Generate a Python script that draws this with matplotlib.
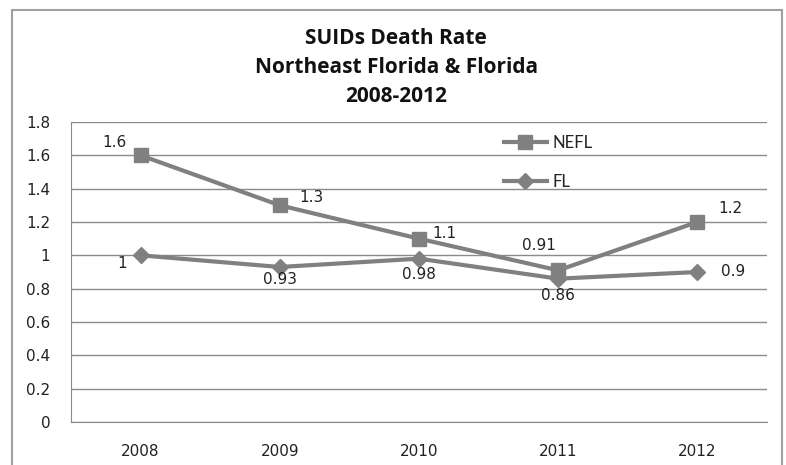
import matplotlib.pyplot as plt
from matplotlib.patches import Rectangle

plt.rcParams['font.family'] = ['DejaVu Sans']

years = ['2008', '2009', '2010', '2011', '2012']
nefl = [1.6, 1.3, 1.1, 0.91, 1.2]
fl = [1.0, 0.93, 0.98, 0.86, 0.9]
nefl_labels = ['1.6', '1.3', '1.1', '0.91', '1.2']
fl_labels = ['1', '0.93', '0.98', '0.86', '0.9']
yticks = [0, 0.2, 0.4, 0.6, 0.8, 1.0, 1.2, 1.4, 1.6, 1.8]
ytick_labels = ['0', '0.2', '0.4', '0.6', '0.8', '1', '1.2', '1.4', '1.6', '1.8']

gray = '#808080'
txt = '#222222'

fig = plt.figure(figsize=(7.86, 4.65), dpi=100)
fig.patch.set_facecolor('white')

# outer chart border (bottom edge is cut off in the original)
fig.patches.append(Rectangle((12 / 786, -0.05), 770 / 786, 1.05 - 10 / 465,
                             transform=fig.transFigure, fill=False,
                             edgecolor='#a0a0a0', linewidth=1.5))

ax = fig.add_axes([71 / 786, 43 / 465, 696 / 786, 300 / 465])
x = list(range(len(years)))

ax.plot(x, nefl, color=gray, linewidth=3, marker='s', markersize=10.5, label='NEFL')
ax.plot(x, fl, color=gray, linewidth=3, marker='D', markersize=8, label='FL')

ax.set_xlim(-0.5, len(years) - 0.5)
ax.set_ylim(0, 1.8)
ax.set_yticks(yticks)
ax.set_yticklabels(ytick_labels)
ax.set_xticks(x)
ax.set_xticklabels(years)
ax.tick_params(axis='both', length=0, labelsize=11, labelcolor=txt)
ax.tick_params(axis='y', pad=15)
ax.tick_params(axis='x', pad=16)
ax.yaxis.grid(True, color='#8a8a8a', linewidth=1)
ax.set_axisbelow(True)
for s in ['top', 'right']:
    ax.spines[s].set_visible(False)
ax.spines['left'].set_color('#8a8a8a')
ax.spines['bottom'].set_color('#8a8a8a')

# data labels
nefl_off = [(-19, 9), (23, 6), (18, 4), (-14, 18), (24, 10)]
fl_off = [(-13, -6), (0, -9), (0, -11.5), (0, -12), (26, 0)]
for i in x:
    ax.annotate(nefl_labels[i], (x[i], nefl[i]), xytext=nefl_off[i],
                textcoords='offset points', ha='center', va='center',
                fontsize=11, color=txt)
    ax.annotate(fl_labels[i], (x[i], fl[i]), xytext=fl_off[i],
                textcoords='offset points', ha='center', va='center',
                fontsize=11, color=txt)

leg = ax.legend(loc='upper left', bbox_to_anchor=(0.6, 1.008), frameon=False,
                labelspacing=1.4, handlelength=2.6, handletextpad=0.35,
                prop={'family': 'Lato', 'size': 12})
for t in leg.get_texts():
    t.set_color(txt)

fig.text(0.504, 0.854, 'SUIDs Death Rate\nNortheast Florida & Florida\n2008-2012',
         ha='center', va='center', fontsize=15, fontweight='bold',
         family='Open Sans', linespacing=1.5, color='#111111')

fig.savefig('out.png', dpi=100)
